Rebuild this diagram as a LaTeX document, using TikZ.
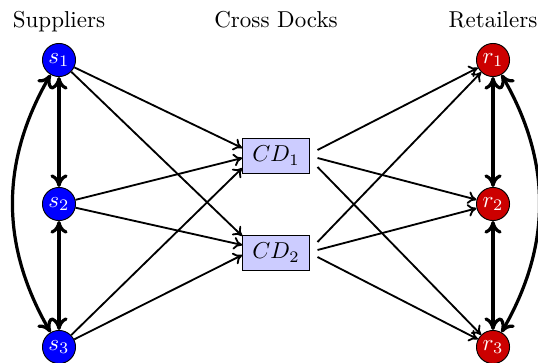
\documentclass[tikz,border=0pt]{standalone}
\usetikzlibrary{arrows.meta,calc}
\begin{document}
\begin{tikzpicture}[x=0.435pt,y=-0.435pt,
  sup/.style={circle,draw=black,fill=blue,text=white,minimum size=14.4pt,inner sep=0pt},
  ret/.style={circle,draw=black,fill=red!80!black,text=white,minimum size=14.4pt,inner sep=0pt},
  cdbox/.style={rectangle,draw=black,fill=blue!20,minimum width=29pt,minimum height=15.2pt,inner sep=0pt},
  flow/.style={-{To[length=3.8pt,width=5.5pt]},thick},
  link/.style={{To[length=5.5pt,width=7.5pt]}-{To[length=5.5pt,width=7.5pt]},line width=1.4pt},
  title/.style={anchor=base}]
\useasboundingbox (0,0) rectangle (538,362);
\clip (0,0) rectangle (538,362);
% titles
\node[title] (tS) at (59,28) {Suppliers};
\node[title] (tC) at (276,28) {Cross Docks};
\node[title] (tR) at (493,28) {Retailers};
% nodes
\node[sup] (s1) at (59,60) {$s_1$};
\node[sup] (s2) at (59,204) {$s_2$};
\node[sup] (s3) at (59,347) {$s_3$};
\node[ret] (r1) at (493,60) {$r_1$};
\node[ret] (r2) at (493,204) {$r_2$};
\node[ret] (r3) at (493,347) {$r_3$};
\node[cdbox] (CD1) at (276,155.5) {$CD_1$};
\node[cdbox] (CD2) at (276,252.5) {$CD_2$};
% supplier to cross dock
\draw[flow] (s1) -- ($(CD1.west)+(0,-7.5)$);
\draw[flow] (s2) -- ($(CD1.west)+(0,2.5)$);
\draw[flow] (s3) -- ($(CD1.west)+(0,12.5)$);
\draw[flow] (s1) -- ($(CD2.west)+(0,-16.5)$);
\draw[flow] (s2) -- ($(CD2.west)+(0,-7.5)$);
\draw[flow] (s3) -- ($(CD2.west)+(0,2.5)$);
% cross dock to retailers
\draw[flow] ($(CD1.east)+(7.7,-5.5)$) -- (r1);
\draw[flow] ($(CD1.east)+(7.7,2.5)$) -- (r2);
\draw[flow] ($(CD1.east)+(7.7,11.5)$) -- (r3);
\draw[flow] ($(CD2.east)+(7.7,-10.5)$) -- (r1);
\draw[flow] ($(CD2.east)+(7.7,-2.5)$) -- (r2);
\draw[flow] ($(CD2.east)+(7.7,4.5)$) -- (r3);
% links among suppliers
\draw[link] (s1) -- (s2);
\draw[link] (s2) -- (s3);
\draw[link] (s1) to[bend right=30] (s3);
% links among retailers
\draw[link] (r1) -- (r2);
\draw[link] (r2) -- (r3);
\draw[link] (r1) to[bend left=30] (r3);
\end{tikzpicture}
\end{document}
